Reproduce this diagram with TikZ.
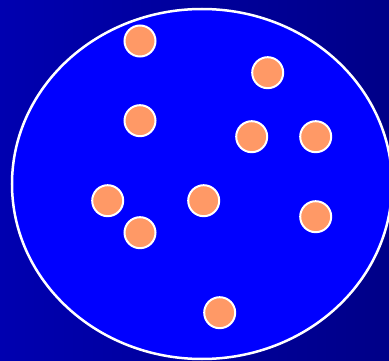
\documentclass[tikz,border=0pt]{standalone}
\usepackage{xcolor}
\usepackage{tikz}
\usetikzlibrary{calc, positioning}

\definecolor{nenxanh}{RGB}{0,0,255}
\definecolor{hatcam}{RGB}{255,153,102}

\begin{document}
\begin{tikzpicture}[x=1pt, y=-1pt]

    % =================================================================
    % 1. NEN VA KHUNG HINH
    % =================================================================
    \shade[left color={rgb,255:red,0;green,0;blue,176}, right color={rgb,255:red,0;green,0;blue,136}]
        (0,0) rectangle (389,361);
    \useasboundingbox (0,0) rectangle (389,361);

    % Hinh elip lon
    \draw[white, line width=2.5pt, fill=nenxanh] (202,184) ellipse [x radius=190, y radius=175];

    % =================================================================
    % 2. CAC HAT
    % =================================================================
    \tikzset{hat/.style={circle, draw=white, line width=2pt, fill=hatcam,
        minimum size=31pt, inner sep=0pt}}

    \node[hat] (h1) at (140,41) {};
    \node[hat] (h2) at (267.7,72.7) {};
    \node[hat] (h3) at (140,120.7) {};
    \node[hat] (h4) at (251.7,136.7) {};
    \node[hat] (h5) at (315.7,136.7) {};
    \node[hat] (h6) at (107.7,200.7) {};
    \node[hat] (h7) at (203.7,200.7) {};
    \node[hat] (h8) at (315.7,216.7) {};
    \node[hat] (h9) at (140,232.7) {};
    \node[hat] (h10) at (219.7,312.7) {};

\end{tikzpicture}
\end{document}
